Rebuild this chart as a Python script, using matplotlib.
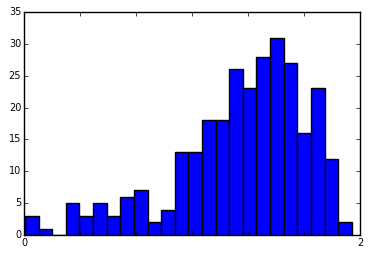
import numpy as np
import matplotlib
matplotlib.use("Agg")
import matplotlib.pyplot as plt

plt.style.use("classic")

# histogram counts, left to right
counts = [3, 1, 0, 5, 3, 5, 3, 6, 7, 2, 4, 13, 13, 18, 18, 26, 23, 28, 31, 27, 16, 23, 12, 2]
bin_lo, bin_hi = 0.006, 1.951
edges = np.linspace(bin_lo, bin_hi, len(counts) + 1)
centers = (edges[:-1] + edges[1:]) / 2

xticks = np.linspace(0, 2, 7)
xticklabels = ["0", "", "", "", "", "", "2"]
yticks = [0, 5, 10, 15, 20, 25, 30, 35]

fig = plt.figure(figsize=(3.72, 2.56), dpi=100)
ax = fig.add_axes([0.0645, 0.082, 0.9032, 0.871])

ax.hist(centers, bins=edges, weights=counts, color="#0000ff", edgecolor="black", linewidth=1.0)

ax.set_xlim(0, 2)
ax.set_ylim(0, 35)
ax.set_xticks(xticks)
ax.set_xticklabels(xticklabels)
ax.set_yticks(yticks)
ax.tick_params(labelsize=7, length=3, pad=2)

fig.savefig("out.png", dpi=100)
